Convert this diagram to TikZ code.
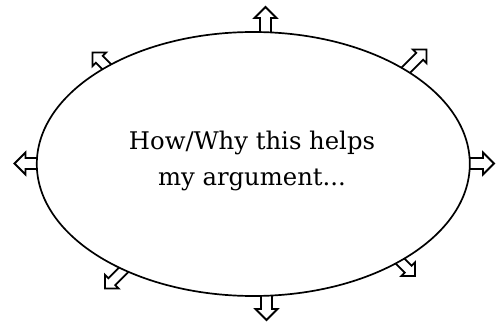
\documentclass[tikz,border=0pt]{standalone}
\usepackage{fontspec}
\setmainfont{DejaVu Serif}
\usetikzlibrary{shapes.geometric}
\pgfdeclarelayer{background}
\pgfsetlayers{background,main}
\tikzset{
  outline/.style={draw=black, line width=1.8pt, fill=white, line join=miter},
  blockarrow/.pic={
    \draw[outline] (0pt,0pt) -- (-11pt,11pt) -- (-11pt,5.5pt) -- (-60pt,5.5pt)
      -- (-60pt,-5.5pt) -- (-11pt,-5.5pt) -- (-11pt,-11pt) -- cycle;
  },
  bubble/.style={ellipse, draw=black, line width=1.7pt, fill=white,
    minimum width=433pt, minimum height=264pt, inner sep=0pt},
  label/.style={font=\fontsize{24.3}{36.8}\selectfont, align=center, text=black}
}
\begin{document}
\begin{tikzpicture}[x=1pt,y=-1pt]
  \useasboundingbox (0,0) rectangle (500,323);
  \node[bubble] (e) at (253.3,164) {};
  \node[label] (t) at (252,161) {How/Why this helps\\my argument...};
  \begin{pgfonlayer}{background}
    \pic[rotate=90] (up) at (265.5,7) {blockarrow};
    \pic[rotate=-90] (down) at (266.5,320) {blockarrow};
    \pic[rotate=180] (left) at (14.5,163.5) {blockarrow};
    \pic[rotate=0] (right) at (494,163.5) {blockarrow};
    \pic[rotate=135,scale=0.88] (ul) at (92.5,52.5) {blockarrow};
    \pic[rotate=45,scale=0.88] (ur) at (426.5,49.5) {blockarrow};
    \pic[rotate=-135,scale=0.88] (dl) at (105,288.5) {blockarrow};
    \pic[rotate=-45,scale=0.88] (dr) at (415,276) {blockarrow};
  \end{pgfonlayer}
\end{tikzpicture}
\end{document}
